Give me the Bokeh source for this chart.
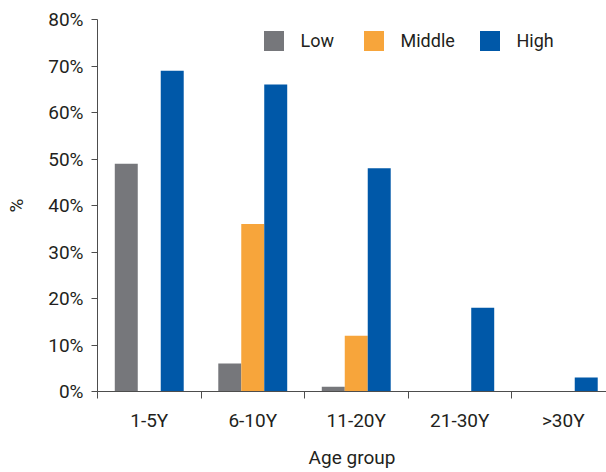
import numpy as np
from bokeh.plotting import figure
from bokeh.models import (Range1d, FixedTicker, Legend, LegendItem)
from bokeh.embed import file_html
from bokeh.resources import INLINE

# Share of each age group by level (%)
age_groups = ["1-5Y", "6-10Y", "11-20Y", "21-30Y", ">30Y"]
low = [49, 6, 1, 0, 0]
middle = [0, 36, 12, 0, 0]
high = [69, 66, 48, 18, 3]
y_ticks = [0, 10, 20, 30, 40, 50, 60, 70, 80]

FONT = "Roboto"
TEXT = "#231f20"
AXIS = "#4d4d4d"
colors = {"Low": "#76777b", "Middle": "#f7a53b", "High": "#0058a8"}

centers = np.arange(len(age_groups)) + 0.5
bar_w = 0.222

p = figure(width=606, height=472, output_backend="svg", toolbar_location=None,
           x_range=Range1d(0, 509 / 103.5), y_range=Range1d(0, 80),
           min_border_left=97, min_border_right=0, min_border_top=19,
           min_border_bottom=81)
p.outline_line_color = None
p.grid.visible = False
p.background_fill_color = "white"
p.border_fill_color = "white"

renderers = {}
for name, vals, off in [("Low", low, -bar_w), ("Middle", middle, 0.0), ("High", high, bar_w)]:
    renderers[name] = p.vbar(x=centers + off, top=vals, width=bar_w, bottom=0,
                             fill_color=colors[name], line_color=None)

# x axis: labels centred on groups, tick marks on group boundaries
xa = p.xaxis[0]
xa.ticker = FixedTicker(ticks=list(centers), minor_ticks=list(range(len(age_groups) + 1)))
xa.major_label_overrides = {float(c): g for c, g in zip(centers, age_groups)}
xa.major_tick_line_color = None
xa.major_tick_out = 7
xa.major_tick_in = 0
xa.minor_tick_out = 7
xa.minor_tick_in = 0
xa.minor_tick_line_color = AXIS
xa.axis_line_color = AXIS
xa.major_label_standoff = 10
xa.axis_label = "Age group"
xa.axis_label_standoff = 11

ya = p.yaxis[0]
ya.ticker = FixedTicker(ticks=y_ticks, minor_ticks=[])
ya.major_label_overrides = {t: f"{t}%" for t in y_ticks}
ya.major_tick_out = 6
ya.major_tick_in = 0
ya.major_tick_line_color = AXIS
ya.minor_tick_line_color = None
ya.axis_line_color = AXIS
ya.major_label_standoff = 8
ya.axis_label = "%"
ya.axis_label_standoff = 17

for ax in (xa, ya):
    ax.major_label_text_font = FONT
    ax.major_label_text_font_size = "19px"
    ax.major_label_text_color = TEXT
    ax.axis_label_text_font = FONT
    ax.axis_label_text_font_size = "19px"
    ax.axis_label_text_font_style = "normal"
    ax.axis_label_text_color = TEXT

# one legend entry per level, placed along the top of the plot
# (glyph box of 25px gives a 20px swatch after the legend's 10% inset)
for name, x in [("Low", 163.5), ("Middle", 263.5), ("High", 379.5)]:
    leg = Legend(items=[LegendItem(label=name, renderers=[renderers[name]])],
                 location=(x, 338.5), padding=0, margin=0,
                 border_line_color=None, background_fill_alpha=0,
                 glyph_width=25, glyph_height=25, label_standoff=15,
                 label_text_font=FONT, label_text_font_size="18px",
                 label_text_color=TEXT, label_height=25)
    p.add_layout(leg)

open("out.html", "w").write(file_html(p, INLINE))
